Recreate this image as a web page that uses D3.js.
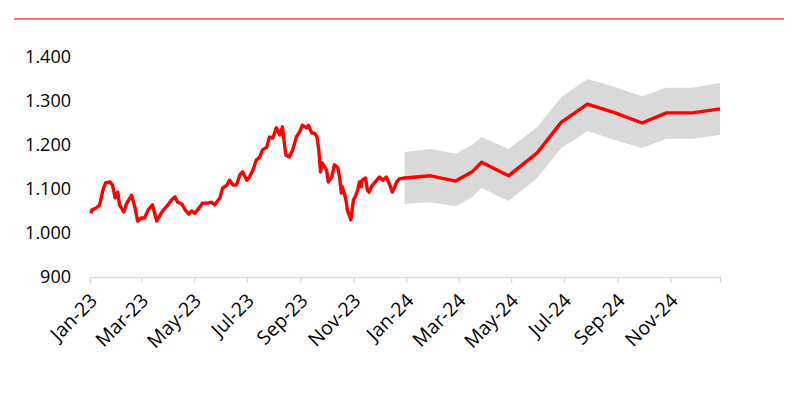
<!DOCTYPE html>
<html>
<head>
<meta charset="utf-8">
<script src="https://cdn.jsdelivr.net/npm/d3@7"></script>
<style>
  body { margin: 0; background: #fff; }
  svg { display: block; font-family: "Open Sans", sans-serif; }
</style>
</head>
<body>
<div id="chart"></div>
<script>
// history (daily-ish)
const histDates = [
  "2023-01-02","2023-01-03","2023-01-08","2023-01-12","2023-01-16","2023-01-19","2023-01-24","2023-01-27","2023-01-30",
  "2023-02-02","2023-02-04","2023-02-09","2023-02-12","2023-02-18","2023-02-22","2023-02-25",
  "2023-03-01","2023-03-05","2023-03-09","2023-03-14","2023-03-19","2023-03-25",
  "2023-04-01","2023-04-05","2023-04-09","2023-04-12","2023-04-17","2023-04-21","2023-04-25","2023-04-28",
  "2023-05-02","2023-05-05","2023-05-11","2023-05-17","2023-05-21","2023-05-25","2023-05-31",
  "2023-06-03","2023-06-08","2023-06-11","2023-06-15","2023-06-19","2023-06-23","2023-06-26",
  "2023-07-01","2023-07-04","2023-07-08","2023-07-12","2023-07-16","2023-07-19","2023-07-24","2023-07-27","2023-07-31",
  "2023-08-04","2023-08-08","2023-08-11","2023-08-15","2023-08-19","2023-08-23","2023-08-27","2023-08-31",
  "2023-09-03","2023-09-08","2023-09-10","2023-09-14","2023-09-17","2023-09-20","2023-09-22","2023-09-24","2023-09-26",
  "2023-10-01","2023-10-03","2023-10-07","2023-10-10","2023-10-14","2023-10-16","2023-10-18","2023-10-19","2023-10-22",
  "2023-10-24","2023-10-25","2023-10-29","2023-10-31",
  "2023-11-01","2023-11-03","2023-11-06","2023-11-08","2023-11-10","2023-11-11","2023-11-15","2023-11-17","2023-11-19",
  "2023-11-23","2023-11-28",
  "2023-12-01","2023-12-05","2023-12-09","2023-12-13","2023-12-16","2023-12-21","2023-12-24"
];
const histValues = [
  1045,1052,1057,1063,1098,1114,1116,1109,1080,
  1093,1064,1048,1066,1086,1057,1027,
  1034,1034,1052,1064,1027,1048,
  1064,1075,1082,1070,1066,1052,1043,1050,
  1045,1052,1068,1068,1070,1064,1080,
  1102,1109,1120,1109,1109,1132,1139,
  1120,1127,1143,1166,1173,1189,1195,1218,1216,
  1239,1223,1241,1177,1173,1189,1218,1230,
  1245,1239,1245,1227,1227,1218,1189,1139,1159,
  1143,1116,1127,1155,1148,1127,1091,1105,1086,
  1068,1052,1030,1059,
  1075,1082,1098,1116,1105,1120,1125,1098,1093,
  1109,1120,
  1127,1120,1127,1109,1093,1116,1123
];

// forecast with range
const fcDates = [
  "2023-12-30","2024-01-29","2024-02-27","2024-03-17","2024-03-28","2024-04-28","2024-05-31",
  "2024-06-28","2024-07-28","2024-08-29","2024-09-29","2024-10-27","2024-11-26","2024-12-28"
];
const fcValues = [1125,1130,1118,1139,1161,1130,1182,1252,1293,1273,1250,1273,1273,1282];
const fcHigh   = [1184,1191,1180,1200,1218,1191,1241,1309,1350,1332,1311,1330,1330,1341];
const fcLow    = [1066,1070,1061,1082,1102,1073,1125,1193,1232,1211,1193,1214,1214,1223];

const yTicks = [900, 1000, 1100, 1200, 1300, 1400];

const width = 792, height = 399;
const parse = d3.timeParse("%Y-%m-%d");
const hist = histDates.map((d, i) => ({ date: parse(d), value: histValues[i] }));
const fc = fcDates.map((d, i) => ({ date: parse(d), value: fcValues[i], hi: fcHigh[i], lo: fcLow[i] }));

const svg = d3.select("#chart").append("svg")
  .attr("width", width)
  .attr("height", height);

svg.append("rect").attr("width", width).attr("height", height).attr("fill", "#fff");

// red rule at the top
svg.append("line")
  .attr("x1", 14).attr("x2", 784)
  .attr("y1", 19).attr("y2", 19)
  .attr("stroke", "#f04848")
  .attr("stroke-width", 1.5);

const x = d3.scaleTime()
  .domain([parse("2023-01-01"), fc[fc.length - 1].date])
  .range([90, 720]);

const y = d3.scaleLinear()
  .domain([900, 1400])
  .range([277, 57]);

const fmt = v => d3.format(",")(v).replace(/,/g, ".");

// y labels, no axis line
svg.append("g")
  .selectAll("text")
  .data(yTicks)
  .enter()
  .append("text")
  .attr("x", 71)
  .attr("y", d => y(d))
  .attr("dy", "0.36em")
  .attr("text-anchor", "end")
  .style("font-size", "18px")
  .style("fill", "#000")
  .text(fmt);

// band
const area = d3.area()
  .x(d => x(d.date))
  .y0(d => y(d.lo))
  .y1(d => y(d.hi));

svg.append("path")
  .datum(fc)
  .attr("d", area)
  .attr("fill", "#d9d9d9");

// x axis
const xAxis = d3.axisBottom(x)
  .ticks(d3.timeMonth.every(2))
  .tickFormat(d3.timeFormat("%b-%y"))
  .tickSizeOuter(0)
  .tickSize(6);

const gx = svg.append("g")
  .attr("transform", "translate(0,277)")
  .call(xAxis);

gx.select(".domain").attr("stroke", "#d9d9d9").attr("stroke-width", 1.5);
gx.selectAll(".tick line").attr("stroke", "#d9d9d9").attr("stroke-width", 1.2);
gx.selectAll(".tick text")
  .attr("x", null).attr("y", null)
  .attr("dy", "0.36em")
  .attr("text-anchor", "end")
  .attr("transform", "translate(3,20) rotate(-45)")
  .style("font-size", "19.5px")
  .style("font-family", "Open Sans, sans-serif")
  .style("fill", "#000");

// line: history then forecast
const line = d3.line()
  .x(d => x(d.date))
  .y(d => y(d.value));

svg.append("path")
  .datum(hist.concat(fc))
  .attr("d", line)
  .attr("fill", "none")
  .attr("stroke", "#ff0000")
  .attr("stroke-width", 3.4)
  .attr("stroke-linejoin", "round");
</script>
</body>
</html>
